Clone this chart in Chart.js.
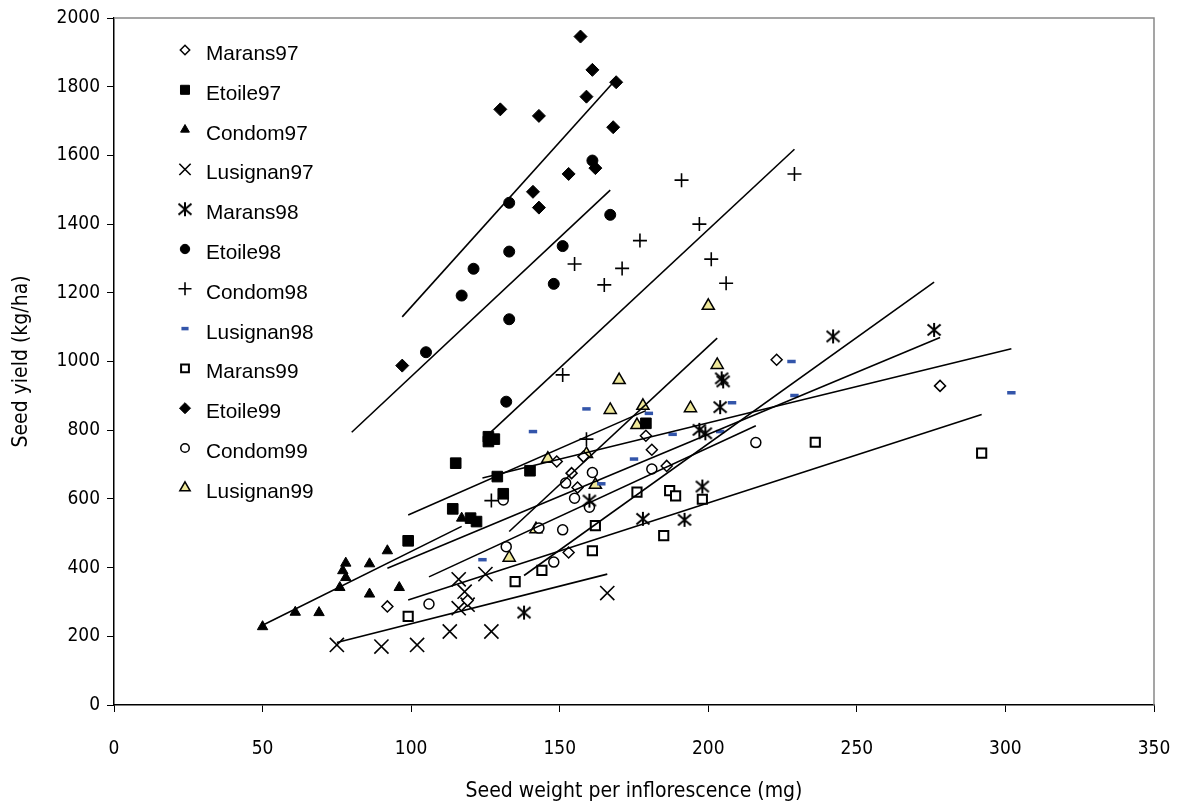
<!DOCTYPE html>
<html>
<head>
<meta charset="utf-8">
<script src="https://cdn.jsdelivr.net/npm/chart.js@4/dist/chart.umd.min.js"></script>
<style>
html,body{margin:0;padding:0;background:#fff;}
#wrap{width:1180px;height:801px;position:relative;}
</style>
</head>
<body>
<div id="wrap"><canvas id="c" width="1180" height="801"></canvas></div>
<script>
// ---- data ----
const seriesNames = ['Marans97','Etoile97','Condom97','Lusignan97','Marans98','Etoile98','Condom98','Lusignan98','Marans99','Etoile99','Condom99','Lusignan99'];

const marans97X = [92,119,149,153,154,156,158,179,181,186,223,278];
const marans97Y = [287,304,709,444,675,633,723,784,743,696,1005,929];
const etoile97X = [99,114,115,120,122,126,126,128,129,131,140,179];
const etoile97Y = [478,571,704,544,534,781,767,774,665,615,682,820];
const condom97X = [50,61,69,76,77,78,78,86,86,92,96,117];
const condom97Y = [228,270,269,342,391,371,413,323,411,449,342,544];
const lusignan97X = [75,90,102,113,116,116,118,119,125,127,166];
const lusignan97Y = [175,170,175,214,282,366,330,292,381,214,326];
const marans98X = [138,160,178,192,197,198,199,204,204.5,205,242,276];
const marans98Y = [269,595,542,539,801,636,791,867,951,942,1073,1092];
const etoile98X = [105,117,121,132,133,133,133,148,151,161,167];
const etoile98Y = [1027,1192,1270,883,1462,1320,1123,1226,1336,1585,1427];
const condom98X = [127,151,155,159,165,171,177,191,197,201,206,229];
const condom98Y = [595,961,1284,774,1223,1271,1352,1528,1400,1298,1228,1546];
const lusignan98X = [124,141,159,164,175,180,188,204,208,228,229,302];
const lusignan98Y = [423,796,862,644,716,849,788,796,880,1000,901,909];
const marans99X = [99,135,144,161,162,176,185,187,189,198,236,292];
const marans99Y = [258,359,392,449,522,620,493,624,609,599,765,733];
const etoile99X = [97,130,141,143,143,153,157,159,161,162,168,169];
const etoile99Y = [988,1734,1494,1715,1448,1546,1946,1771,1849,1563,1682,1813];
const condom99X = [106,131,132,143,148,151,152,155,160,161,181,216];
const condom99Y = [294,597,461,515,416,510,646,602,576,677,687,764];
const lusignan99X = [133,142,146,159,162,167,170,176,178,194,200,203];
const lusignan99Y = [429,512,717,731,641,859,946,815,871,864,1162,990];

// trend lines (per series, same order as seriesNames)
const trendStartX = [92,99,50,75,138,80,127,124,99,97,106,133];
const trendStartY = [398,553,232,182,377,794,796,661,306,1130,373,505];
const trendEndX   = [278,179,117,166,276,167,229,302,292,168,216,203];
const trendEndY   = [1070,857,520,381,1231,1499,1618,1037,846,1812,813,1068];

const xTicks = [0,50,100,150,200,250,300,350];
const yTicks = [0,200,400,600,800,1000,1200,1400,1600,1800,2000];

// ---- styles ----
function makeAsterisk(){
  const s = 16, cv = document.createElement('canvas');
  cv.width = s; cv.height = s;
  const g = cv.getContext('2d');
  g.strokeStyle = '#000'; g.lineWidth = 2;
  g.beginPath();
  g.moveTo(8,1); g.lineTo(8,15);
  g.moveTo(1.5,2.5); g.lineTo(14.5,13.5);
  g.moveTo(14.5,2.5); g.lineTo(1.5,13.5);
  g.stroke();
  return cv;
}
const asterisk = makeAsterisk();

const styles = [
  {pointStyle:'rectRot', radius:5.5, bg:'#fff', border:'#000', bw:1.5},
  {pointStyle:'rect',    radius:7.5, bg:'#000', border:'#000', bw:1},
  {pointStyle:'triangle',radius:6,   bg:'#000', border:'#000', bw:1},
  {pointStyle:'crossRot',radius:10,  bg:'#000', border:'#000', bw:1.6},
  {pointStyle:asterisk,  radius:8,   bg:'#000', border:'#000', bw:1.5},
  {pointStyle:'circle',  radius:5.5, bg:'#000', border:'#000', bw:1},
  {pointStyle:'cross',   radius:7,   bg:'#000', border:'#000', bw:1.6},
  {pointStyle:'line',    radius:4.2, bg:'#3355aa', border:'#3355aa', bw:3.5},
  {pointStyle:'rect',    radius:6.5, bg:'#fff', border:'#000', bw:2},
  {pointStyle:'rectRot', radius:6.5, bg:'#000', border:'#000', bw:1},
  {pointStyle:'circle',  radius:5,   bg:'#fff', border:'#000', bw:1.5},
  {pointStyle:'triangle',radius:7,   bg:'#eee79a', border:'#000', bw:1.5}
];

const seriesX = [marans97X,etoile97X,condom97X,lusignan97X,marans98X,etoile98X,condom98X,lusignan98X,marans99X,etoile99X,condom99X,lusignan99X];
const seriesY = [marans97Y,etoile97Y,condom97Y,lusignan97Y,marans98Y,etoile98Y,condom98Y,lusignan98Y,marans99Y,etoile99Y,condom99Y,lusignan99Y];

const datasets = [];
seriesNames.forEach((name,i)=>{
  const st = styles[i];
  datasets.push({
    type:'scatter',
    label:name,
    data: seriesX[i].map((x,j)=>({x:x, y:seriesY[i][j]})),
    pointStyle: st.pointStyle,
    pointRadius: st.radius,
    pointHoverRadius: st.radius,
    backgroundColor: st.bg,
    borderColor: st.border,
    pointBorderWidth: st.bw,
    borderWidth: st.bw,
    showLine:false,
    order: 2
  });
});
seriesNames.forEach((name,i)=>{
  datasets.push({
    type:'line',
    label:name+' trend',
    data:[{x:trendStartX[i], y:trendStartY[i]},{x:trendEndX[i], y:trendEndY[i]}],
    borderColor:'#000',
    borderWidth:1.6,
    pointRadius:0,
    fill:false,
    tension:0,
    order: 1
  });
});

const tickFont = {family:'"DejaVu Sans Condensed", "DejaVu Sans", sans-serif', size:19};
const titleFont = {family:'"DejaVu Sans Condensed", "DejaVu Sans", sans-serif', size:21};

const frame = {
  id:'frame',
  afterDraw(chart){
    const {ctx, chartArea:a} = chart;
    ctx.save();
    ctx.strokeStyle = '#888'; ctx.lineWidth = 1.5;
    ctx.beginPath();
    ctx.moveTo(a.left, a.top); ctx.lineTo(a.right, a.top); ctx.lineTo(a.right, a.bottom);
    ctx.stroke();
    ctx.restore();
  }
};

const legendPlugin = {
  id:'customLegend',
  afterDraw(chart){
    const ctx = chart.ctx;
    ctx.save();
    const x0 = 185, y0 = 50, step = 39.8;
    seriesNames.forEach((name,i)=>{
      const st = styles[i];
      const y = y0 + i*step;
      ctx.fillStyle = st.bg; ctx.strokeStyle = st.border; ctx.lineWidth = st.bw;
      const r = (st.pointStyle==='crossRot') ? 8 : (st.pointStyle==='cross' ? 6.5 : st.radius*0.85);
      Chart.helpers.drawPoint(ctx, {pointStyle:st.pointStyle, radius:r, rotation:0, borderWidth:st.bw}, x0, y);
      ctx.fillStyle = '#000';
      ctx.font = '20.8px "Liberation Sans", Arial, sans-serif';
      ctx.textBaseline = 'alphabetic';
      ctx.textAlign = 'left';
      ctx.fillText(name, 206, y + 10);
    });
    ctx.restore();
  }
};

new Chart(document.getElementById('c'), {
  data:{datasets},
  options:{
    responsive:false,
    animation:false,
    events:[],
    layout:{padding:{left:0, top:18, right:26, bottom:0}},
    plugins:{legend:{display:false}, tooltip:{enabled:false}},
    scales:{
      x:{
        type:'linear', min:0, max:350,
        afterBuildTicks(s){ s.ticks = xTicks.map(v=>({value:v})); },
        afterFit(s){ s.height = 96; s.paddingLeft = 0; s.paddingRight = 0; },
        grid:{drawOnChartArea:false, drawTicks:true, tickLength:7, color:'#000', lineWidth:1},
        border:{display:true, color:'#000', width:1.5},
        ticks:{color:'#000', font:tickFont, padding:26, maxRotation:0, callback:v=>String(v)},
        title:{display:true, text:'Seed weight per inflorescence (mg)', color:'#000', font:titleFont, padding:{top:0,bottom:-3}}
      },
      y:{
        type:'linear', min:0, max:2000,
        afterBuildTicks(s){ s.ticks = yTicks.map(v=>({value:v})); },
        afterFit(s){ s.width = 114; s.paddingTop = 0; s.paddingBottom = 0; },
        grid:{drawOnChartArea:false, drawTicks:true, tickLength:7, color:'#000', lineWidth:1},
        border:{display:true, color:'#000', width:1.5},
        ticks:{color:'#000', font:tickFont, padding:7, callback:v=>String(v)},
        title:{display:true, text:'Seed yield (kg/ha)', color:'#000', font:titleFont, padding:{top:9,bottom:0}}
      }
    }
  },
  plugins:[frame, legendPlugin]
});
</script>
</body>
</html>
